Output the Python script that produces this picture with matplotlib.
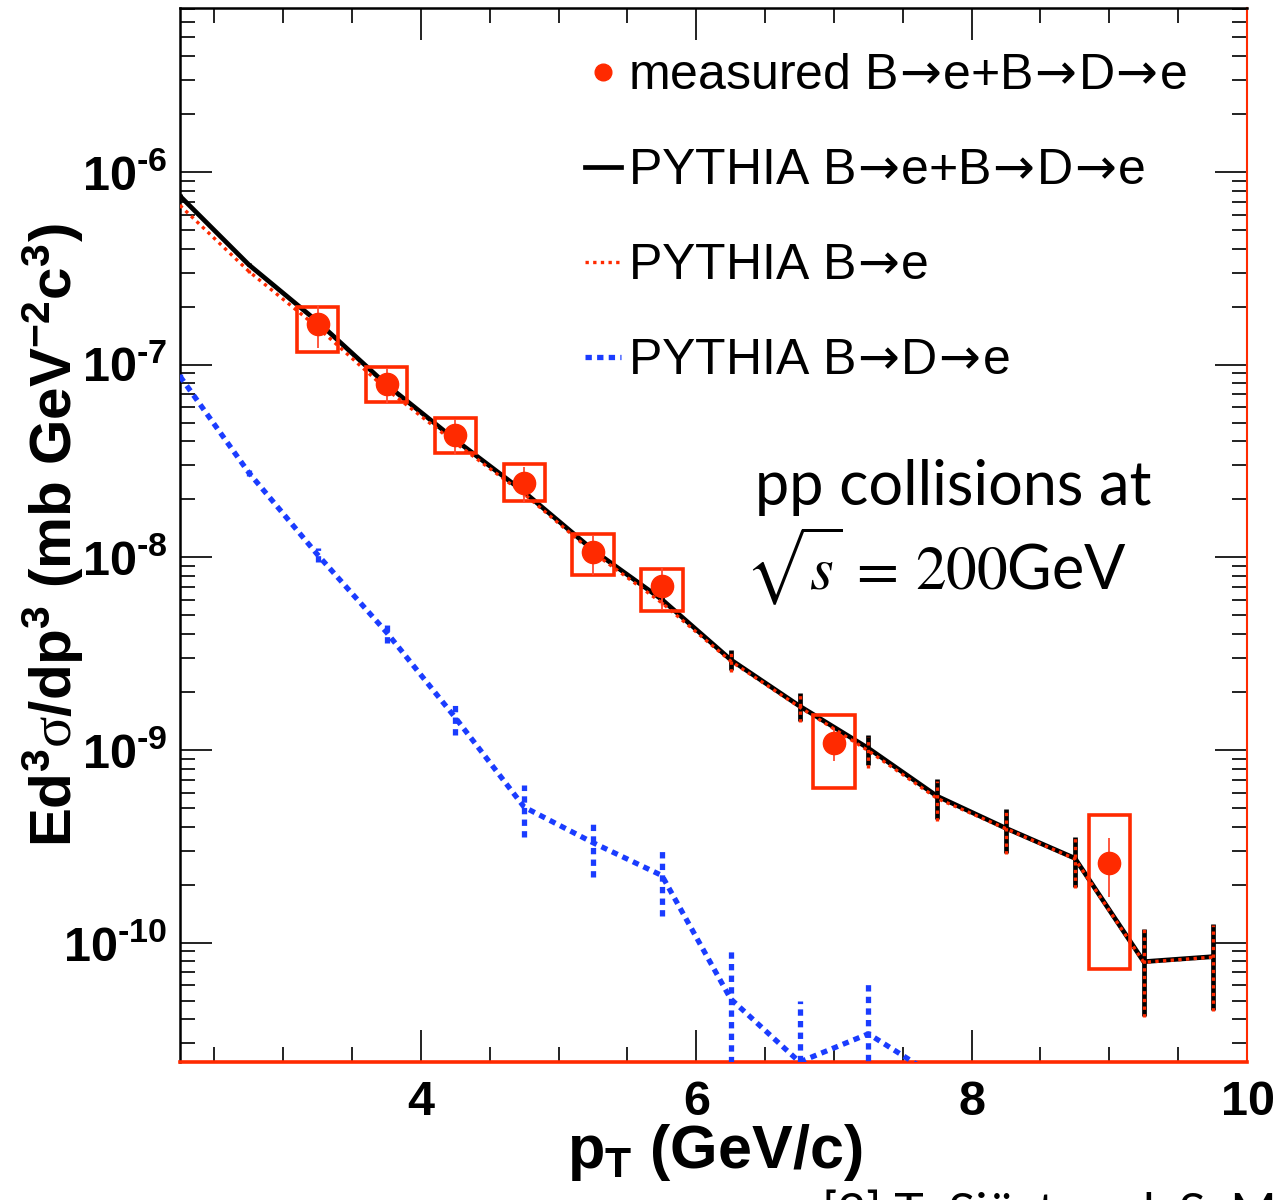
import numpy as np
import matplotlib
matplotlib.use("Agg")
import matplotlib.pyplot as plt
from matplotlib.ticker import FixedLocator, FuncFormatter, NullFormatter

# ---------------- data ----------------
pt_pythia = [2.25, 2.75, 3.25, 3.75, 4.25, 4.75, 5.25, 5.75,
             6.25, 6.75, 7.25, 7.75, 8.25, 8.75, 9.25, 9.75]
pythia_sum = [7.5e-7, 3.3e-7, 1.67e-7, 7.87e-8, 4.07e-8, 2.18e-8, 1.09e-8, 6.04e-9,
              2.94e-9, 1.69e-9, 1.02e-9, 5.75e-10, 3.92e-10, 2.74e-10, 7.96e-11, 8.45e-11]
pythia_sum_err = [1.5e-8, 6e-9, 3e-9, 1.5e-9, 8e-10, 4.5e-10, 2.5e-10, 1.6e-10,
                  3.5e-10, 2.8e-10, 1.8e-10, 1.35e-10, 1.0e-10, 0.8e-10, 0.38e-10, 0.4e-10]
pythia_b = [6.7e-7, 3.05e-7, 1.56e-7, 7.45e-8, 3.92e-8, 2.13e-8, 1.06e-8, 5.8e-9,
            2.89e-9, 1.67e-9, 0.99e-9, 5.6e-10, 3.9e-10, 2.72e-10, 7.9e-11, 8.4e-11]
pythia_b_err = [1.4e-8, 5.5e-9, 2.8e-9, 1.4e-9, 7.5e-10, 4.3e-10, 2.4e-10, 1.5e-10,
                3.4e-10, 2.7e-10, 1.8e-10, 1.3e-10, 1.0e-10, 0.8e-10, 0.38e-10, 0.4e-10]

pt_bde = [2.25, 2.75, 3.25, 3.75, 4.25, 4.75, 5.25, 5.75, 6.25, 6.75, 7.25, 7.75]
pythia_bde = [8.7e-8, 2.75e-8, 1.03e-8, 4.08e-9, 1.47e-9, 5.05e-10, 3.3e-10, 2.23e-10,
              5.1e-11, 2.4e-11, 3.36e-11, 2.0e-11]
pythia_bde_err = [2e-9, 1e-9, 0.9e-9, 0.5e-9, 0.27e-9, 1.5e-10, 1.1e-10, 0.85e-10,
                  4.2e-11, 2.6e-11, 2.9e-11, 0.0]

pt_meas = [3.25, 3.75, 4.25, 4.75, 5.25, 5.75, 7.0, 9.0]
meas = [1.62e-7, 7.96e-8, 4.32e-8, 2.43e-8, 1.06e-8, 7.06e-9, 1.09e-9, 2.6e-10]
stat_err = [4.0e-8, 1.7e-8, 9.0e-9, 5.2e-9, 2.5e-9, 1.7e-9, 2.1e-10, 0.88e-10]
sys_low = [1.17e-7, 6.41e-8, 3.48e-8, 1.96e-8, 8.06e-9, 5.24e-9, 6.34e-10, 7.3e-11]
sys_high = [2.0e-7, 9.77e-8, 5.3e-8, 3.05e-8, 1.32e-8, 8.66e-9, 1.52e-9, 4.58e-10]

x_major = [4, 6, 8, 10]
x_minor = [2.5, 3, 3.5, 4.5, 5, 5.5, 6.5, 7, 7.5, 8.5, 9, 9.5]
y_major = [1e-10, 1e-9, 1e-8, 1e-7, 1e-6]

ARR = r"$\!\rightarrow\!$"
labels = ["measured B" + ARR + "e+B" + ARR + "D" + ARR + "e",
          "PYTHIA B" + ARR + "e+B" + ARR + "D" + ARR + "e",
          "PYTHIA B" + ARR + "e",
          "PYTHIA B" + ARR + "D" + ARR + "e"]

# ---------------- style ----------------
plt.rcParams['font.family'] = ['Liberation Sans', 'DejaVu Sans']
plt.rcParams['mathtext.fontset'] = 'custom'
plt.rcParams['mathtext.bf'] = 'Liberation Sans:bold'
plt.rcParams['mathtext.rm'] = 'Liberation Serif'
plt.rcParams['mathtext.it'] = 'Liberation Sans:italic'
plt.rcParams['mathtext.sf'] = 'Liberation Sans'

RED = '#ff2a00'
BLUE = '#1a3cff'
HYPH = "\u2010"

W, H = 1279, 1200
fig = plt.figure(figsize=(W / 100, H / 100), dpi=100)
ax = fig.add_axes([180 / W, 138 / H, 1067 / W, 1054 / H])
ax.set_yscale('log')
ax.set_xlim(2.25, 10.0)
ax.set_ylim(2.4e-11, 7.1e-6)


def low_err(vals, errs):
    v = np.asarray(vals)
    e = np.asarray(errs)
    return np.minimum(e, v * 0.999)


# PYTHIA sum (black solid)
eb_sum = ax.errorbar(pt_pythia, pythia_sum,
                     yerr=[low_err(pythia_sum, pythia_sum_err), pythia_sum_err],
                     color='black', lw=3.4, elinewidth=3.4, capsize=0, zorder=3)
# PYTHIA B->e (red dotted)
eb_b = ax.errorbar(pt_pythia, pythia_b,
                   yerr=[low_err(pythia_b, pythia_b_err), pythia_b_err],
                   color=RED, lw=2.4, elinewidth=2.4, capsize=0, zorder=4)
eb_b[0].set_dashes((1.0, 1.3))
eb_b[2][0].set_linestyle((0, (1.0, 1.3)))
# PYTHIA B->D->e (blue dashed)
eb_bde = ax.errorbar(pt_bde, pythia_bde,
                     yerr=[low_err(pythia_bde, pythia_bde_err), pythia_bde_err],
                     color=BLUE, lw=3.8, elinewidth=3.8, capsize=0, zorder=3)
eb_bde[0].set_dashes((1.2, 1.0))
eb_bde[2][0].set_linestyle((0, (1.2, 1.0)))

# systematic boxes
ax.bar(pt_meas, np.array(sys_high) - np.array(sys_low), bottom=sys_low, width=0.3,
       fill=False, edgecolor=RED, linewidth=2.6, zorder=5)
# measured points
eb_meas = ax.errorbar(pt_meas, meas, yerr=stat_err, fmt='o', color=RED,
                      markersize=16, elinewidth=1.3, ecolor='#ff4a30', capsize=0, zorder=6)

# ---------------- axes ----------------
ax.xaxis.set_major_locator(FixedLocator(x_major))
ax.xaxis.set_minor_locator(FixedLocator(x_minor))
ax.xaxis.set_major_formatter(FuncFormatter(lambda v, p: r"$\mathbf{%d}$" % v))
ax.xaxis.set_minor_formatter(NullFormatter())

ax.yaxis.set_major_locator(FixedLocator(y_major))
y_minor = [m * 10.0 ** e for e in range(-12, -5) for m in range(2, 10)]
ax.yaxis.set_minor_locator(FixedLocator(y_minor))
ax.yaxis.set_major_formatter(FuncFormatter(
    lambda v, p: "$\\mathbf{10^{" + HYPH + "%d}}$" % abs(int(round(np.log10(v))))))
ax.yaxis.set_minor_formatter(NullFormatter())

ax.tick_params(which='both', direction='in', top=True, right=True, width=1.4,
               color='#222222')
ax.tick_params(which='major', length=23)
ax.tick_params(which='minor', length=11)
ax.tick_params(axis='x', which='major', labelsize=35, pad=13)
ax.tick_params(axis='y', which='major', labelsize=35, pad=9)

for s in ['left', 'top']:
    ax.spines[s].set_linewidth(1.8)
    ax.spines[s].set_color('black')
ax.spines['bottom'].set_color(RED)
ax.spines['bottom'].set_linewidth(2.6)
ax.spines['right'].set_color(RED)
ax.spines['right'].set_linewidth(1.5)

ax.set_xlabel(r"$\mathbf{p_{T}\ (GeV/c)}$", fontsize=44)
ax.xaxis.set_label_coords(0.5 + (715 - 713.5) / 1067, -(1122 - 1062) / 1054)
ax.set_ylabel(r"$\mathbf{Ed^{3}}\mathrm{σ}\mathbf{/dp^{3}\ (mb\ GeV^{-2}c^{3})}$",
              fontsize=42)
ax.yaxis.set_label_coords(-(180 - 86) / 1067, (1062 - 535) / 1054)

# ---------------- legend ----------------
handles = [eb_meas[0], eb_sum[0], eb_b[0], eb_bde[0]]
leg = fig.legend(handles, labels, loc='upper left',
                 bbox_to_anchor=(585 / W, 1 - 53 / H), frameon=False,
                 fontsize=36, handlelength=0.72, handletextpad=0.15,
                 labelspacing=0.98, borderpad=0, borderaxespad=0,
                 markerscale=0.75)
for t in leg.get_texts():
    t.set_math_fontfamily('dejavusans')

# ---------------- annotations ----------------
fig.text(755 / W, 1 - 505 / H, "pp collisions at", fontsize=44,
         family=['Lato', 'DejaVu Sans'], ha='left', va='baseline')
fig.text(745 / W, 1 - 590 / H, r"$\sqrt{s}\,=\,\mathrm{200}$GeV", fontsize=44,
         family=['Lato', 'DejaVu Sans'], math_fontfamily='stix',
         ha='left', va='baseline')
fig.text(822 / W, 1 - 1190 / H, "[2] T. Sjöstrand, S. Mrenna", fontsize=36,
         family=['Lato', 'DejaVu Sans'], ha='left', va='top')

fig.savefig("out.png", dpi=100)
